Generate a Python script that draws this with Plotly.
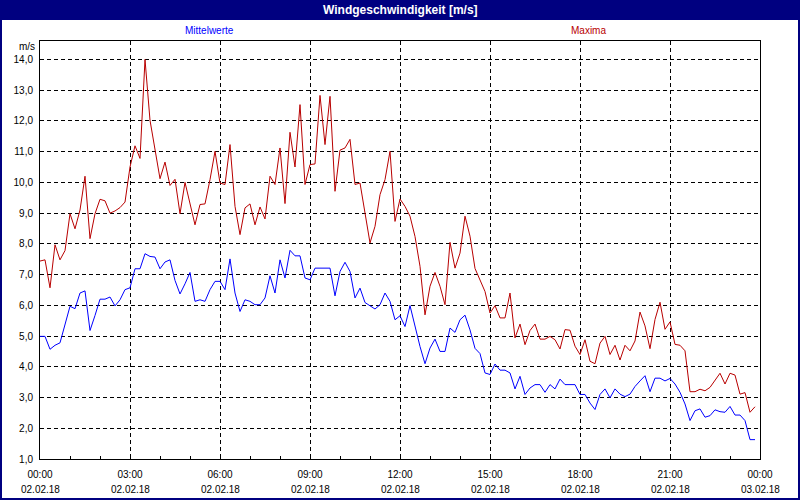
import plotly.graph_objects as go

# ---- data (10-minute values, 02.02.18 00:00 .. 23:50) ----
mittelwerte = [
    4.99, 4.99, 4.57, 4.70, 4.78, 5.35, 5.97, 5.89, 6.40, 6.47,
    5.18, 5.67, 6.20, 6.20, 6.27, 5.98, 6.18, 6.51, 6.57, 7.19,
    7.19, 7.68, 7.59, 7.57, 7.19, 7.41, 7.48, 6.81, 6.37, 6.70,
    7.07, 6.13, 6.18, 6.13, 6.51, 6.78, 6.78, 6.51, 7.51, 6.40,
    5.80, 6.18, 6.13, 6.02, 6.02, 6.24, 6.96, 6.40, 7.48, 6.89,
    7.79, 7.61, 7.61, 6.89, 6.83, 7.21, 7.21, 7.21, 7.21, 6.31,
    7.10, 7.40, 7.10, 6.24, 6.56, 6.09, 5.99, 5.88, 6.02, 6.40,
    6.13, 5.53, 5.66, 5.31, 5.99, 5.31, 4.66, 4.10, 4.61, 4.90,
    4.50, 4.50, 5.26, 5.12, 5.53, 5.68, 5.20, 4.60, 4.43, 3.80,
    3.75, 4.09, 3.89, 3.89, 3.80, 3.28, 3.69, 3.10, 3.31, 3.42,
    3.42, 3.17, 3.42, 3.28, 3.60, 3.42, 3.42, 3.42, 3.10, 3.10,
    2.82, 2.61, 3.10, 3.28, 2.99, 3.28, 3.11, 3.03, 3.11, 3.36,
    3.54, 3.71, 3.19, 3.63, 3.63, 3.54, 3.62, 3.44, 3.17, 2.79,
    2.25, 2.57, 2.63, 2.36, 2.41, 2.60, 2.54, 2.52, 2.71, 2.43,
    2.43, 2.25, 1.63, 1.63,
]
maxima = [
    7.44, 7.48, 6.57, 7.97, 7.48, 7.78, 8.98, 8.49, 9.10, 10.20,
    8.17, 8.98, 9.45, 9.40, 9.00, 9.07, 9.18, 9.36, 10.50, 11.19,
    10.78, 14.00, 12.02, 11.05, 10.12, 10.66, 9.90, 10.10, 8.98, 10.00,
    9.33, 8.62, 9.28, 9.30, 10.09, 11.01, 9.98, 9.93, 11.23, 9.22,
    8.30, 9.17, 9.30, 8.62, 9.20, 8.81, 10.20, 9.93, 11.12, 9.31,
    11.63, 10.50, 12.53, 9.93, 10.58, 10.60, 12.83, 11.23, 12.80, 9.71,
    11.05, 11.12, 11.40, 9.93, 9.98, 9.00, 8.03, 8.57, 9.60, 10.09,
    11.01, 8.73, 9.46, 9.22, 8.90, 8.24, 7.27, 5.69, 6.62, 7.07,
    6.62, 6.02, 8.05, 7.21, 7.70, 8.90, 8.25, 7.20, 6.83, 6.45,
    5.75, 5.99, 5.59, 5.59, 6.40, 4.94, 5.39, 4.72, 5.18, 5.39,
    4.90, 4.90, 4.99, 4.88, 4.58, 5.21, 5.19, 4.67, 4.40, 4.88,
    4.18, 4.10, 4.77, 4.99, 4.40, 4.70, 4.22, 4.70, 4.52, 4.84,
    5.78, 5.33, 4.59, 5.54, 6.10, 5.22, 5.46, 4.73, 4.70, 4.52,
    3.19, 3.19, 3.27, 3.22, 3.33, 3.54, 3.79, 3.44, 3.79, 3.73,
    3.11, 3.16, 2.52, 2.70,
]
hours = [i / 6 for i in range(len(maxima))]

x_tick_vals = [0, 3, 6, 9, 12, 15, 18, 21, 24]
x_tick_times = ["00:00", "03:00", "06:00", "09:00", "12:00", "15:00", "18:00", "21:00", "00:00"]
x_tick_dates = ["02.02.18"] * 8 + ["03.02.18"]
y_tick_vals = list(range(1, 15))

# ---- layout geometry ----
W, H = 800, 500
L, R, T, B = 40, 40, 41, 41
PW, PH = W - L - R, H - T - B
NAVY = "#000080"
BLUE = "#0000FF"
RED = "#B80000"
FONT = "Liberation Sans"


def px_x(X):
    return (X - L) / PW


def px_y(Y):
    return (H - B - Y) / PH


fig = go.Figure()
fig.add_trace(go.Scatter(x=hours, y=mittelwerte, mode="lines",
                         line=dict(color=BLUE, width=1), name="Mittelwerte"))
fig.add_trace(go.Scatter(x=hours, y=maxima, mode="lines",
                         line=dict(color=RED, width=1), name="Maxima"))

annotations = [
    dict(text="<b>Windgeschwindigkeit [m/s]</b>", xref="paper", yref="paper",
         x=0.5, y=px_y(10), showarrow=False, xanchor="center", yanchor="middle",
         font=dict(family=FONT, size=12, color="white")),
    dict(text="Mittelwerte", xref="paper", yref="paper",
         x=px_x(209), y=px_y(31), showarrow=False, xanchor="center", yanchor="middle",
         font=dict(family=FONT, size=10, color=BLUE)),
    dict(text="Maxima", xref="paper", yref="paper",
         x=px_x(588), y=px_y(31), showarrow=False, xanchor="center", yanchor="middle",
         font=dict(family=FONT, size=10, color=RED)),
    dict(text="m/s", xref="paper", yref="paper",
         x=px_x(37), y=px_y(46), showarrow=False, xanchor="right", yanchor="middle",
         font=dict(family=FONT, size=10, color="black")),
]
for xv, d in zip(x_tick_vals, x_tick_dates):
    annotations.append(dict(text=d, xref="x", yref="paper", x=xv, y=px_y(489),
                            showarrow=False, xanchor="center", yanchor="middle",
                            font=dict(family=FONT, size=10, color="black")))

fig.update_layout(
    width=W, height=H,
    margin=dict(l=L, r=R, t=T, b=B, autoexpand=False),
    paper_bgcolor="white", plot_bgcolor="white",
    showlegend=False,
    separators=",.",
    font=dict(family=FONT, size=10, color="black"),
    xaxis=dict(
        range=[0, 24], tickvals=x_tick_vals, ticktext=x_tick_times,
        showgrid=True, gridcolor="black", gridwidth=1, griddash="4px,3px",
        showline=True, linecolor="black", linewidth=1, mirror=True,
        ticks="inside", ticklen=3, tickcolor="black",
        minor=dict(dtick=1, tick0=0, ticks="inside", ticklen=3, tickcolor="black", showgrid=False),
        zeroline=False, ticklabelstandoff=6,
        tickfont=dict(family=FONT, size=10, color="black"),
    ),
    yaxis=dict(
        range=[1, 14.6], tickvals=y_tick_vals, tickformat=".1f",
        showgrid=True, gridcolor="black", gridwidth=1, griddash="4px,3px",
        showline=True, linecolor="black", linewidth=1, mirror=True,
        ticks="", zeroline=False, ticklabelstandoff=4,
        tickfont=dict(family=FONT, size=10, color="black"),
    ),
    shapes=[
        dict(type="rect", xref="paper", yref="paper",
             x0=px_x(0), x1=px_x(W), y0=px_y(20), y1=px_y(0),
             fillcolor=NAVY, line=dict(width=0)),
        dict(type="rect", xref="paper", yref="paper",
             x0=px_x(1), x1=px_x(W - 1), y0=px_y(H - 1), y1=px_y(1),
             line=dict(color=NAVY, width=2)),
    ],
    annotations=annotations,
)

fig.write_html("out.html", config={"displayModeBar": False},
               post_script="document.body.style.margin='0';document.body.style.overflow='hidden';")
